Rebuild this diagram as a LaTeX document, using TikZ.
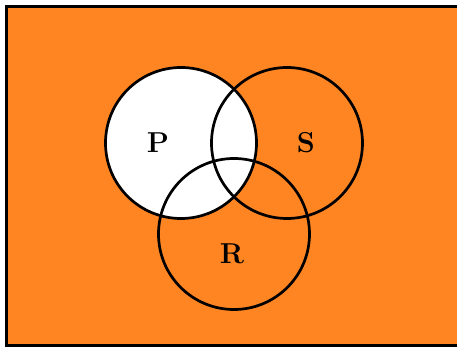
\documentclass[tikz,border=0pt]{standalone}
\definecolor{vorange}{RGB}{255,133,34}
\begin{document}
\begin{tikzpicture}[x=0.5pt,y=-0.5pt,
  ring/.style={draw=black,line width=1.35pt,circle,minimum size=75.5pt,inner sep=0pt},
  lbl/.style={font=\Large\bfseries,text=black}]
\useasboundingbox (0,0) rectangle (457,347);
\fill[vorange] (6.5,6.5) rectangle (457,345.5);
\coordinate (TR) at (457,6.5);
\coordinate (TL) at (6.5,6.5);
\coordinate (BL) at (6.5,345.5);
\coordinate (BR) at (457,345.5);
\draw[line width=1.35pt,line join=miter] (TR) -- (TL) -- (BL) -- (BR);
\fill[white] (181,143) circle[radius=75.5];
\node[ring] (P) at (181,143) {};
\node[ring] (S) at (287,143) {};
\node[ring] (R) at (234,234) {};
\node[lbl] (Pl) at (158,143) {P};
\node[lbl] (Sl) at (306,143) {S};
\node[lbl] (Rl) at (232,254) {R};
\end{tikzpicture}
\end{document}
